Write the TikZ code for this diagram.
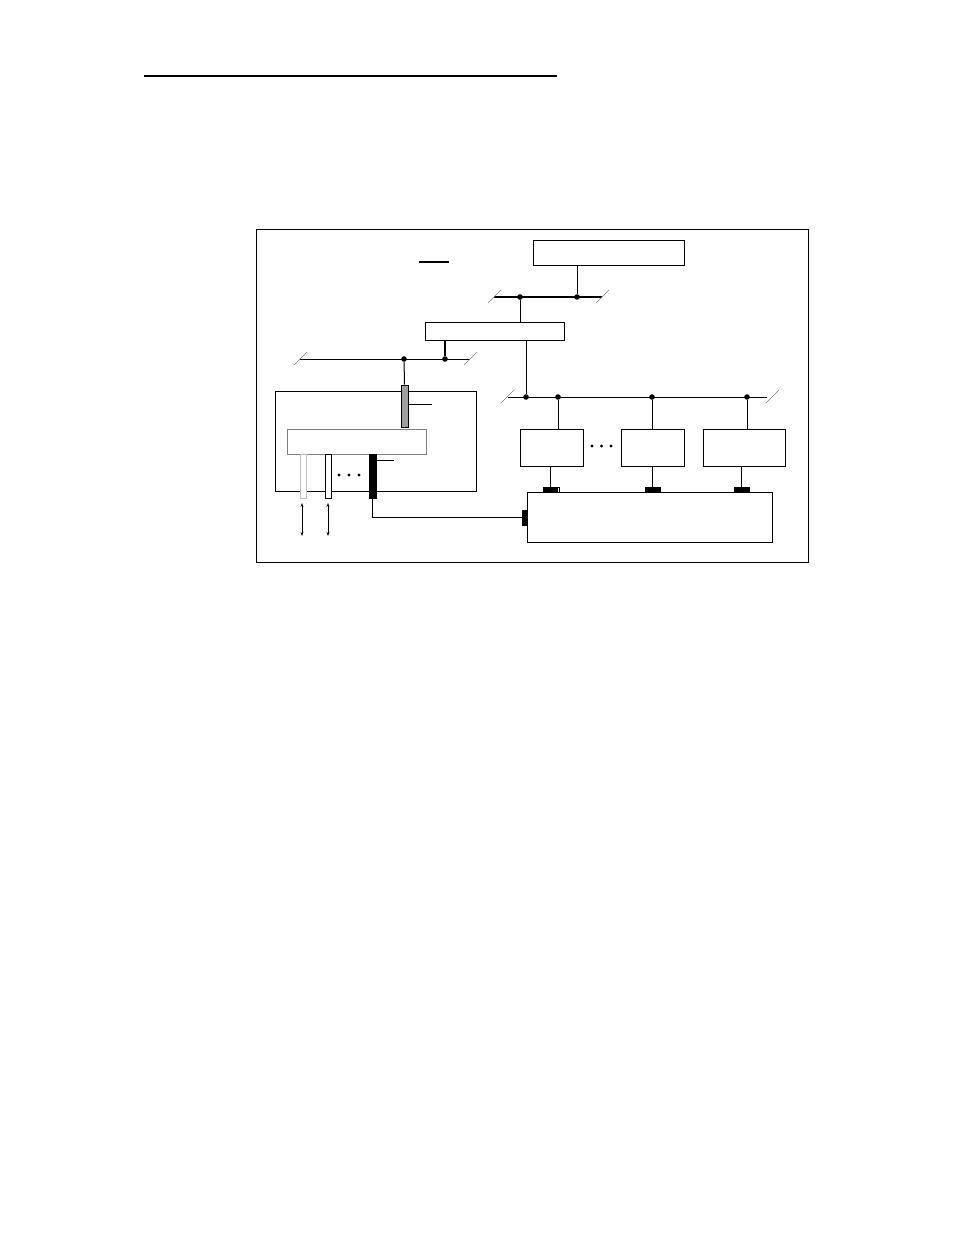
\documentclass[tikz,border=0pt]{standalone}
\usetikzlibrary{fit,arrows.meta,calc}
\begin{document}
\begin{tikzpicture}[x=0.75pt,y=-0.75pt,
  box/.style={draw, line width=0.75pt, inner sep=0pt},
  wire/.style={line width=0.75pt},
  thickwire/.style={line width=2pt},
  slashline/.style={gray, line width=0.5pt},
  jdot/.style={circle, fill, inner sep=0pt, minimum size=4.2pt},
  sdot/.style={circle, fill, inner sep=0pt, minimum size=2.6pt},
  conn/.style={fill=black, draw=black, line width=0.4pt, inner sep=0pt},
  dbl/.style={line width=0.6pt, {Stealth[length=3pt,width=2.2pt]}-{Stealth[length=3pt,width=2.2pt]}}
]
\useasboundingbox (0,0) rectangle (954,1235);

% top rule
\coordinate (r1) at (144,76);
\coordinate (r2) at (557,76);
\draw[line width=2.1pt] (r1) -- (r2);

% outer frame
\node[box, fit={(256,229)(808,562)}] (frame) {};

% short mark
\coordinate (m1) at (419,262);
\coordinate (m2) at (449,262);
\draw[line width=1.6pt] (m1) -- (m2);

% top box
\node[box, fit={(533,240)(684,265)}] (topbox) {};

% thick bus
\coordinate (tb1) at (494,297);
\coordinate (tb2) at (602,297);
\draw[thickwire] (tb1) -- (tb2);
\draw[slashline] ($(tb1)+(-6,6)$) -- ($(tb1)+(7,-7)$);
\draw[slashline] ($(tb2)+(-6,6)$) -- ($(tb2)+(7,-7)$);
\node[jdot] (d1) at (520,297) {};
\node[jdot] (d2) at (577,297) {};
\draw[wire] (topbox.south -| d2) -- (d2);

% middle box
\node[box, fit={(425,322)(564,340)}] (midbox) {};
\draw[wire] (d1) -- (d1 |- midbox.north);

% left bus
\coordinate (lb1) at (300,359);
\coordinate (lb2) at (470,359);
\draw[wire] (lb1) -- (lb2);
\draw[slashline] ($(lb1)+(-6,6)$) -- ($(lb1)+(7,-7)$);
\draw[slashline] ($(lb2)+(-6,6)$) -- ($(lb2)+(7,-7)$);
\node[jdot] (d3) at (445,359) {};
\node[jdot] (d4) at (404,359) {};
\draw[thickwire] (midbox.south -| d3) -- (d3);

% right bus
\coordinate (rb1) at (508,397);
\coordinate (rb2) at (767,397);
\draw[wire] (rb1) -- (rb2);
\draw[slashline] ($(rb1)+(-7,6)$) -- ($(rb1)+(6,-7)$);
\draw[slashline] ($(rb2)+(-1,6)$) -- ($(rb2)+(12,-7)$);
\node[jdot] (d5) at (526,397) {};
\node[jdot] (d6) at (558,397) {};
\node[jdot] (d7) at (652,397) {};
\node[jdot] (d8) at (747,397) {};
\draw[wire] (midbox.south -| d5) -- (d5);

% three boxes
\node[box, fit={(520,429)(583,466)}] (b1) {};
\node[box, fit={(621,429)(684,466)}] (b2) {};
\node[box, fit={(703,429)(785,466)}] (b3) {};
\draw[wire] (d6) -- (d6 |- b1.north);
\draw[wire] (d7) -- (d7 |- b2.north);
\draw[wire] (d8) -- (d8 |- b3.north);
\node[sdot] (e1) at (592,446) {};
\node[sdot] (e2) at (601.5,446) {};
\node[sdot] (e3) at (611,446) {};

% bottom box
\node[box, fit={(527,492)(772,542)}] (botbox) {};
\node[conn, fit={(543,487)(557,492)}] (c1) {};
\node[draw, line width=0.4pt, inner sep=0pt, fit={(557,487)(559,492)}] (c1b) {};
\node[conn, fit={(645,487)(660,492)}] (c2) {};
\node[conn, fit={(734,487)(749,492)}] (c3) {};
\node[conn, fit={(522,510)(527,525)}] (c4) {};
\coordinate (v1) at (550,487);
\coordinate (v3) at (741,487);
\draw[wire] (b1.south -| v1) -- (v1);
\draw[wire] (b2.south -| c2) -- (c2.north);
\draw[wire] (b3.south -| v3) -- (v3);

% left unit
\node[box, fit={(275,391)(476,491)}] (lbox) {};
\node[draw=black, fill=gray!75, line width=0.6pt, inner sep=0pt, fit={(401,385)(408,427)}] (grey) {};
\draw[wire] (d4) -- (grey.north);
\coordinate (gl) at (432,404);
\draw[wire] (grey.east |- gl) -- (gl);
\node[draw=gray, fill=white, line width=0.7pt, inner sep=0pt, fit={(287,429)(426,454)}] (inner) {};
\node[draw=gray!50, fill=white, line width=0.6pt, inner sep=0pt, fit={(300,454)(306,498)}] (bar1) {};
\node[draw=black, fill=white, line width=0.6pt, inner sep=0pt, fit={(325,454)(331,498)}] (bar2) {};
\node[draw=black, fill=black, line width=0.4pt, inner sep=0pt, fit={(369,454)(376,498)}] (bar3) {};
\coordinate (bl) at (394,460);
\draw[wire] (bar3.east |- bl) -- (bl);
\node[sdot] (f1) at (339,475) {};
\node[sdot] (f2) at (349,475) {};
\node[sdot] (f3) at (359,475) {};

% link from black bar to bottom box
\coordinate (k) at (372,517);
\draw[wire] (bar3.south -| k) -- (k) -- (c4.west |- k);

% double arrows
\coordinate (a1t) at (302,503);
\coordinate (a1b) at (302,536);
\coordinate (a2t) at (328,503);
\coordinate (a2b) at (328,536);
\draw[dbl] (a1t) -- (a1b);
\draw[dbl] (a2t) -- (a2b);
\end{tikzpicture}
\end{document}
